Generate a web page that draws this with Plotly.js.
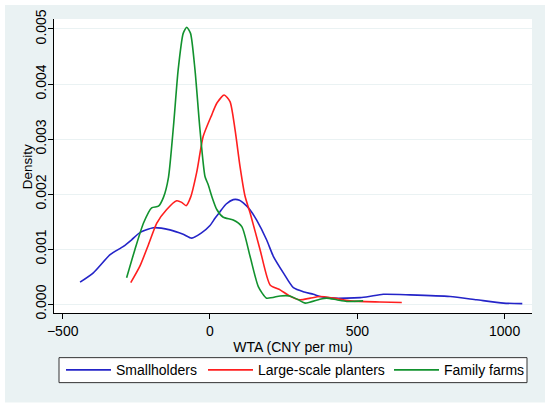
<!DOCTYPE html>
<html>
<head>
<meta charset="utf-8">
<script src="https://cdn.plot.ly/plotly-3.0.1.min.js"></script>
<style>html,body{margin:0;padding:0;background:#fff;}#chart{width:550px;height:408px;}</style>
</head>
<body>
<div id="chart"></div>
<script>
// Series names
var seriesNames = ['Smallholders', 'Large-scale planters', 'Family farms'];

// Smallholders density curve (WTA, density)
var smallX = [-441,-396,-339,-294,-266,-238,-192,-136,-91,-62,-30,0,17,34,55,79,100,113,135,158,192,215,249,283,320,351,373,419,464,509,540,588,679,815,905,996,1060];
var smallY = [0.00040,0.00057,0.00090,0.00105,0.00117,0.00130,0.00139,0.00135,0.00127,0.00120,0.00129,0.00143,0.00156,0.00168,0.00182,0.00190,0.00189,0.00184,0.00172,0.00153,0.00117,0.00087,0.00057,0.00030,0.00022,0.00018,0.00014,0.00011,0.00011,0.00012,0.00014,0.00018,0.00017,0.00014,0.00008,0.00002,0.00001];

// Large-scale planters density curve
var largeX = [-269,-238,-209,-181,-147,-113,-96,-81,-66,-45,-23,6,23,48,68,85,102,119,136,170,204,238,270,305,340,373,420,475,577,651];
var largeY = [0.00039,0.00069,0.00108,0.00147,0.00172,0.00188,0.00185,0.00179,0.00194,0.00240,0.00305,0.00344,0.00365,0.00380,0.00368,0.00317,0.00250,0.00196,0.00166,0.00099,0.00035,0.00026,0.00015,0.00008,0.00011,0.00014,0.00011,0.00006,0.00004,0.00003];

// Family farms density curve
var familyX = [-283,-255,-226,-198,-175,-158,-141,-124,-108,-91,-79,-66,-51,-34,-17,-6,6,23,45,79,108,136,164,192,238,270,300,323,373,396,430,464,520];
var familyY = [0.00048,0.00099,0.00147,0.00175,0.00178,0.00194,0.00230,0.00323,0.00426,0.00492,0.00503,0.00492,0.00426,0.00317,0.00232,0.00217,0.00196,0.00172,0.00158,0.00153,0.00141,0.00087,0.00032,0.00011,0.00015,0.00015,0.00008,0.00002,0.00009,0.00011,0.00008,0.00005,0.00006];

// Tick labels
var xTickVals = [-500, 0, 500, 1000];
var xTickText = ['\u2212500', '0', '500', '1000'];
var yTickVals = [0, 0.001, 0.002, 0.003, 0.004, 0.005];
var yTickText = ['0.000', '0.001', '0.002', '0.003', '0.004', '0.005'];

var colors = ['#2424c8', '#ff1f1f', '#12922e'];
var font = 'Liberation Sans, Arial, sans-serif';
var FS = 14;

var legendIds = ['legend', 'legend2', 'legend3'];
var data = [
  {x: smallX, y: smallY, name: seriesNames[0]},
  {x: largeX, y: largeY, name: seriesNames[1]},
  {x: familyX, y: familyY, name: seriesNames[2]}
].map(function (t, i) {
  t.type = 'scatter';
  t.mode = 'lines';
  t.line = {color: colors[i], width: 1.6, shape: 'spline', smoothing: 0.6};
  t.hoverinfo = 'skip';
  t.legend = legendIds[i];
  return t;
});

function legendAt(xp) {
  return {
    orientation: 'h',
    x: xp, xanchor: 'left',
    y: -0.1947, yanchor: 'middle',
    bgcolor: 'rgba(0,0,0,0)',
    borderwidth: 0,
    font: {family: font, size: FS, color: '#000'},
    itemwidth: 45
  };
}

var layout = {
  width: 550,
  height: 408,
  margin: {l: 54, r: 18, t: 19, b: 95},
  paper_bgcolor: '#eaf2f3',
  plot_bgcolor: '#ffffff',
  font: {family: font, size: FS, color: '#000'},
  showlegend: true,
  legend: legendAt(7/478),
  legend2: legendAt(149/478),
  legend3: legendAt(335/478),
  xaxis: {
    range: [-529.5, 1093],
    tickvals: xTickVals,
    ticktext: xTickText,
    ticks: 'outside', ticklen: 5, tickcolor: '#000', tickwidth: 1,
    showline: true, linecolor: '#000', linewidth: 1,
    showgrid: false, zeroline: false,
    tickfont: {family: font, size: FS, color: '#000'},
    title: {text: 'WTA (CNY per mu)', font: {family: font, size: FS, color: '#000'}, standoff: 0}
  },
  yaxis: {
    range: [-0.00016, 0.005181],
    tickvals: yTickVals,
    ticktext: yTickText,
    tickangle: -90,
    ticklabelstandoff: -4,
    ticks: 'outside', ticklen: 5, tickcolor: '#000', tickwidth: 1,
    showline: true, linecolor: '#000', linewidth: 1,
    showgrid: true, gridcolor: '#eaf2f3', gridwidth: 1,
    zeroline: false,
    tickfont: {family: font, size: FS, color: '#000'}
  },
  annotations: [{
    text: 'Density', textangle: -90, showarrow: false,
    xref: 'paper', yref: 'paper',
    x: -27/478, xanchor: 'center',
    y: 145.8/294.3, yanchor: 'middle',
    font: {family: font, size: 13.5, color: '#000'}
  }],
  shapes: [{
    type: 'rect', xref: 'paper', yref: 'paper',
    x0: 5/478, x1: 473/478, y0: -69.7/294.3, y1: -44.7/294.3,
    line: {color: '#333333', width: 1}, fillcolor: '#ffffff', layer: 'above'
  }, {
    type: 'rect', xref: 'paper', yref: 'paper',
    x0: -54/478, x1: 496/478, y0: -94.7/294.3, y1: 313.3/294.3,
    line: {color: '#ffffff', width: 10}, fillcolor: 'rgba(0,0,0,0)', layer: 'above'
  }]
};

Plotly.newPlot('chart', data, layout, {staticPlot: true, displayModeBar: false});
</script>
</body>
</html>
